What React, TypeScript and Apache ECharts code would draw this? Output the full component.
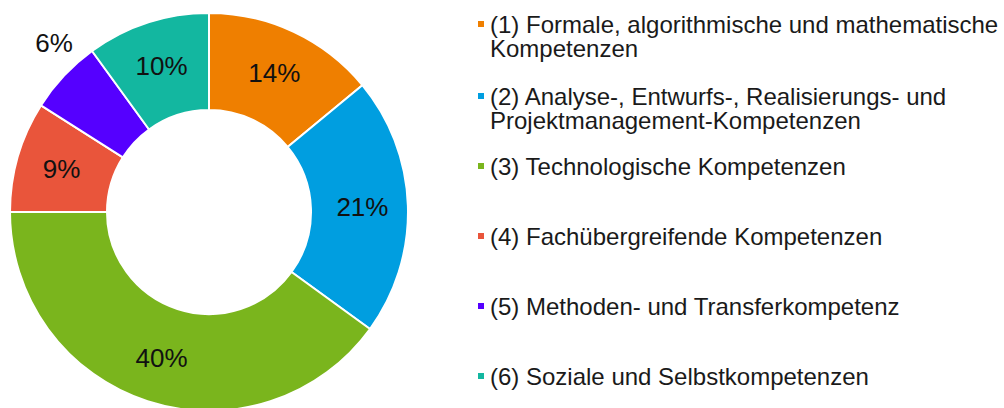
import React, { useEffect, useRef } from "react";
import * as echarts from "echarts";

const categories: string[] = [
  "(1) Formale, algorithmische und mathematische\nKompetenzen",
  "(2) Analyse-, Entwurfs-, Realisierungs- und\nProjektmanagement-Kompetenzen",
  "(3) Technologische Kompetenzen",
  "(4) Fachübergreifende Kompetenzen",
  "(5) Methoden- und Transferkompetenz",
  "(6) Soziale und Selbstkompetenzen",
];
const shares: number[] = [14, 21, 40, 9, 6, 10];
const colors: string[] = ["#EF7F00", "#009EE0", "#7AB51D", "#E9553B", "#5500FF", "#13B7A0"];

const FONT = "'Liberation Sans', Arial, sans-serif";
const LEGEND_FONT = 24;
const LEGEND_LH = 24;
const markerCenters = [24, 96, 166, 236, 306, 376];

export default function App() {
  const ref = useRef<HTMLDivElement>(null);
  useEffect(() => {
    document.body.style.margin = "0";
    if (!ref.current) return;
    const chart = echarts.init(ref.current, undefined, { renderer: "svg" });

    const legends = categories.map((name, i) => {
      const twoLine = name.includes("\n");
      const half = twoLine ? 1.5 * LEGEND_LH : 0.5 * LEGEND_LH;
      return {
        data: [name],
        left: 476,
        top: markerCenters[i] - half,
        padding: 0,
        icon: "rect",
        itemWidth: 8,
        itemHeight: 8,
        selectedMode: false,
        formatter: (n: string) => (n.includes("\n") ? "\n" + n : n),
        textStyle: {
          fontFamily: FONT,
          fontSize: LEGEND_FONT,
          lineHeight: LEGEND_LH,
          color: "#1a1a1a",
        },
      };
    });

    chart.setOption({
      animation: false,
      color: colors,
      legend: legends,
      series: [
        {
          type: "pie",
          center: [209, 212],
          radius: [102, 199],
          startAngle: 90,
          clockwise: true,
          avoidLabelOverlap: false,
          itemStyle: { borderColor: "#ffffff", borderWidth: 2 },
          label: {
            show: true,
            position: "inside",
            formatter: "{d}%",
            fontFamily: FONT,
            fontSize: 26,
            color: "#111111",
          },
          labelLine: { show: false },
          labelLayout: (params: any) => {
            if (params.dataIndex === 4) return { dx: -43, dy: -64 };
            return {};
          },
          emphasis: { disabled: true },
          data: categories.map((name, i) => ({ name, value: shares[i] })),
        },
      ],
    });
    return () => chart.dispose();
  }, []);
  return <div ref={ref} style={{ width: 1004, height: 408 }} />;
}
